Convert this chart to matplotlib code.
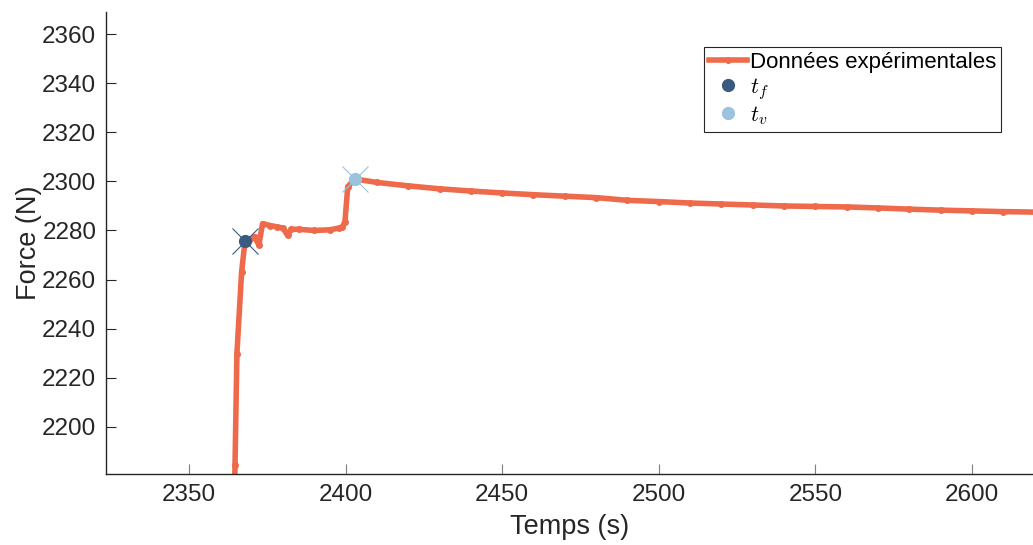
import matplotlib
matplotlib.use("Agg")
import matplotlib.pyplot as plt

plt.rcParams["font.family"] = ["Liberation Sans", "DejaVu Sans"]
plt.rcParams["mathtext.fontset"] = "cm"

# Force vs time
temps = [2364.5, 2364.7, 2365.3, 2366.8, 2367.9, 2369.5, 2371.0, 2371.6, 2372.3,
         2373.5, 2376.0, 2378.0, 2380.0, 2381.5, 2382.5, 2385.0, 2390.0, 2395.0,
         2398.0, 2399.0, 2399.8, 2400.7, 2403.0, 2410.0, 2420.0, 2430.0, 2440.0,
         2450.0, 2460.0, 2470.0, 2480.0, 2490.0, 2500.0, 2510.0, 2520.0, 2530.0,
         2540.0, 2550.0, 2560.0, 2570.0, 2580.0, 2590.0, 2600.0, 2610.0, 2620.0]
force = [2170.0, 2184.5, 2229.8, 2263.1, 2275.8, 2276.5, 2277.5, 2276.0, 2274.1,
         2282.8, 2282.0, 2281.5, 2281.0, 2278.0, 2280.5, 2280.5, 2280.0, 2280.3,
         2281.0, 2281.5, 2283.6, 2297.9, 2301.0, 2299.6, 2298.2, 2297.0, 2296.1,
         2295.3, 2294.6, 2294.0, 2293.4, 2292.3, 2291.8, 2291.2, 2290.8, 2290.4,
         2290.0, 2289.8, 2289.6, 2289.2, 2288.7, 2288.3, 2288.0, 2287.7, 2287.5]

t_f, F_f = 2367.9, 2275.8
t_v, F_v = 2403.0, 2301.0

x_ticks = [2350, 2400, 2450, 2500, 2550, 2600]
y_ticks = [2200, 2220, 2240, 2260, 2280, 2300, 2320, 2340, 2360]

line_col = "#EF6A4B"
col_f = "#3A5A82"
col_v = "#9BC3DD"
dark = "#262626"

fig = plt.figure(figsize=(10.33, 5.45), dpi=100)
ax = fig.add_axes([106 / 1033, 1 - 474 / 545, 1 - 106 / 1033, (474 - 12) / 545])

ax.plot(temps, force, color=line_col, lw=4.0, marker=".", markersize=8,
        label="Données expérimentales", zorder=2)
ax.plot([t_f], [F_f], "x", color=col_f, markersize=19, mew=0.8, zorder=3)
ax.plot([t_v], [F_v], "x", color=col_v, markersize=19, mew=0.8, zorder=3)
ax.plot([t_f], [F_f], "o", color=col_f, markersize=8.5, ls="none", label="$t_f$", zorder=4)
ax.plot([t_v], [F_v], "o", color=col_v, markersize=8.5, ls="none", label="$t_v$", zorder=4)

ax.set_xlim(2323.5, 2619.5)
ax.set_ylim(2180.7, 2369.1)
ax.set_xticks(x_ticks)
ax.set_yticks(y_ticks)
ax.tick_params(direction="in", length=7, width=0.8, colors=dark, labelsize=17.5,
               pad=7)
ax.tick_params(axis="x", colors="#7f7f7f", labelcolor=dark)
for side in ["top", "right"]:
    ax.spines[side].set_visible(False)
for side in ["left", "bottom"]:
    ax.spines[side].set_color(dark)
    ax.spines[side].set_linewidth(1.0)

ax.set_xlabel("Temps (s)", fontsize=19.5, color=dark, labelpad=6)
ax.set_ylabel("Force (N)", fontsize=19.5, color=dark, labelpad=0)

leg = ax.legend(loc="upper left", bbox_to_anchor=(704 / 1033, 1 - 47 / 545),
                bbox_transform=fig.transFigure, borderaxespad=0, fontsize=16,
                frameon=True, fancybox=False, framealpha=1, edgecolor=dark,
                handlelength=1.7, handletextpad=0.15, labelspacing=0.12,
                borderpad=0.22, numpoints=1)
leg.get_frame().set_linewidth(0.8)

fig.savefig("out.png", dpi=100)
